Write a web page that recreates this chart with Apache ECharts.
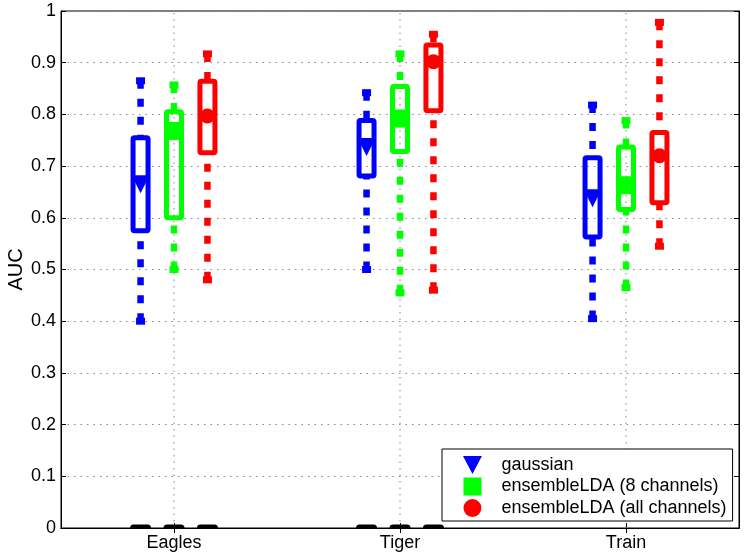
<!DOCTYPE html>
<html><head><meta charset="utf-8">
<script src="https://cdn.jsdelivr.net/npm/echarts@6/dist/echarts.min.js"></script>
<style>html,body{margin:0;padding:0;background:#fff}#c{width:745px;height:558px}</style>
</head><body><div id="c"></div>
<script>
// ---- data ----
const categories = ['Eagles', 'Tiger', 'Train'];
const methodNames = ['gaussian', 'ensembleLDA (8 channels)', 'ensembleLDA (all channels)'];
// [min, Q1, median, Q3, max] for Eagles, Tiger, Train
const gaussianStats = [[0.40, 0.575, 0.665, 0.755, 0.865], [0.50, 0.681, 0.737, 0.788, 0.842], [0.405, 0.563, 0.638, 0.716, 0.818]];
const lda8Stats = [[0.50, 0.60, 0.768, 0.805, 0.857], [0.455, 0.728, 0.792, 0.854, 0.917], [0.465, 0.616, 0.663, 0.737, 0.788]];
const ldaAllStats = [[0.48, 0.726, 0.797, 0.864, 0.917], [0.46, 0.807, 0.902, 0.934, 0.955], [0.545, 0.629, 0.72, 0.765, 0.978]];
// black marks lying on the zero line (null = none)
const gaussianZero = [0, 0, null];
const lda8Zero = [0, 0, null];
const ldaAllZero = [0, 0, null];
const yMin = 0, yMax = 1, yStep = 0.1;

// ---- styles ----
const allStats = [gaussianStats, lda8Stats, ldaAllStats];
const allZero = [gaussianZero, lda8Zero, ldaAllZero];
const colors = ['#0000FF', '#00FF00', '#FF0000'];
const offsets = [-0.148, 0, 0.148];
const FONT = '"Liberation Sans", Arial, Helvetica, sans-serif';
const catPos = categories.map((c, i) => i + 1);

function boxRender(k) {
  return function (params, api) {
    const x = api.value(0) + offsets[k];
    const pMin = api.coord([x, api.value(1)]);
    const pQ1 = api.coord([x, api.value(2)]);
    const pMd = api.coord([x, api.value(3)]);
    const pQ3 = api.coord([x, api.value(4)]);
    const pMax = api.coord([x, api.value(5)]);
    const cx = pMd[0];
    const hw = 7.5;
    const color = colors[k];
    const ch = [];
    const wStyle = { stroke: color, lineWidth: 6.5, lineDash: [8, 10], lineCap: 'butt' };
    ch.push({ type: 'line', shape: { x1: cx, y1: pMax[1], x2: cx, y2: pQ3[1] }, style: wStyle });
    ch.push({ type: 'line', shape: { x1: cx, y1: pMin[1], x2: cx, y2: pQ1[1] }, style: wStyle });
    ch.push({ type: 'rect', shape: { x: cx - 4.5, y: pMax[1] - 3.5, width: 9, height: 7 }, style: { fill: color } });
    ch.push({ type: 'rect', shape: { x: cx - 4.5, y: pMin[1] - 3.5, width: 9, height: 7 }, style: { fill: color } });
    ch.push({ type: 'rect', shape: { x: cx - hw, y: pQ3[1], width: 2 * hw, height: pQ1[1] - pQ3[1], r: 1.5 },
      style: { fill: null, stroke: color, lineWidth: 5, lineJoin: 'round' } });
    const my = pMd[1];
    if (k === 0) {
      ch.push({ type: 'polygon', shape: { points: [[cx - 9, my - 9], [cx + 9, my - 9], [cx, my + 9]] }, style: { fill: color } });
    } else if (k === 1) {
      ch.push({ type: 'rect', shape: { x: cx - 9, y: my - 9, width: 18, height: 18 }, style: { fill: color } });
    } else {
      ch.push({ type: 'circle', shape: { cx: cx, cy: my, r: 7.5 }, style: { fill: color } });
    }
    return { type: 'group', children: ch };
  };
}

const series = [];
// vertical dotted grid lines at category positions
series.push({
  type: 'custom', name: '_grid', silent: true, z: 1, clip: true,
  data: catPos.map(p => [p]),
  renderItem: function (params, api) {
    const a = api.coord([api.value(0), yMin]);
    const b = api.coord([api.value(0), yMax]);
    return { type: 'line', shape: { x1: a[0], y1: a[1], x2: b[0], y2: b[1] }, style: { stroke: '#888', lineWidth: 1, lineDash: [1.5, 5] } };
  }
});
for (let k = 0; k < 3; k++) {
  series.push({
    type: 'custom', name: methodNames[k], z: 3, clip: true,
    itemStyle: { color: colors[k] },
    encode: { x: 0, y: [1, 2, 3, 4, 5] },
    data: allStats[k].map((s, i) => [catPos[i]].concat(s)),
    renderItem: boxRender(k)
  });
}
const zeroData = [];
allZero.forEach((arr, k) => arr.forEach((v, i) => { if (v !== null) zeroData.push([catPos[i], k, v]); }));
series.push({
  type: 'custom', name: '_zero', z: 2, clip: true,
  data: zeroData,
  renderItem: function (params, api) {
    const x = api.value(0) + offsets[api.value(1)];
    const p = api.coord([x, api.value(2)]);
    return { type: 'line', shape: { x1: p[0] - 7, y1: p[1], x2: p[0] + 7, y2: p[1] }, style: { stroke: '#000', lineWidth: 7, lineCap: 'round' } };
  }
});

const chart = echarts.init(document.getElementById('c'), null, { renderer: 'canvas' });
chart.setOption({
  animation: false,
  backgroundColor: '#fff',
  textStyle: { fontFamily: FONT },
  grid: { left: 61, right: 6, top: 11, bottom: 30, containLabel: false, outerBoundsMode: 'none',
    show: true, borderColor: '#000', borderWidth: 1, backgroundColor: 'transparent' },
  legend: {
    orient: 'vertical', left: 442, top: 449,
    padding: [7, 6, 4, 21], itemWidth: 20, itemHeight: 18, itemGap: 3.5,
    backgroundColor: '#fff', borderColor: '#000', borderWidth: 1,
    textStyle: { fontSize: 18, color: '#000', fontFamily: FONT, padding: [0, 0, 0, 14] },
    data: [
      { name: methodNames[0], icon: 'path://M0,0L20,0L10,19Z' },
      { name: methodNames[1], icon: 'path://M0,0L17,0L17,17L0,17Z' },
      { name: methodNames[2], icon: 'circle' }
    ],
    selectedMode: false
  },
  xAxis: [{
    type: 'value', min: 0.5, max: 3.5, position: 'bottom',
    axisLine: { show: true, lineStyle: { color: '#000', width: 1 } },
    axisTick: { show: true, inside: true, length: 5, customValues: catPos, lineStyle: { color: '#000' } },
    axisLabel: { show: true, customValues: catPos, margin: 6, fontSize: 18, color: '#000', fontFamily: FONT,
      formatter: v => categories[Math.round(v) - 1] },
    splitLine: { show: false }
  }, {
    type: 'value', min: 0.5, max: 3.5, position: 'top',
    axisLine: { show: true, lineStyle: { color: '#000', width: 1 } },
    axisTick: { show: true, inside: true, length: 5, customValues: catPos, lineStyle: { color: '#000' } },
    axisLabel: { show: false },
    splitLine: { show: false }
  }],
  yAxis: [{
    type: 'value', min: yMin, max: yMax, interval: yStep, position: 'left',
    name: 'AUC', nameLocation: 'middle', nameGap: 35, nameRotate: 90, nameMoveOverlap: false,
    nameTextStyle: { fontSize: 20, color: '#000', fontFamily: FONT },
    axisLine: { show: true, lineStyle: { color: '#000', width: 1 } },
    axisTick: { show: true, inside: true, length: 5, lineStyle: { color: '#000' } },
    axisLabel: { margin: 5, fontSize: 18, color: '#000', fontFamily: FONT, formatter: v => String(+v.toFixed(1)) },
    splitLine: { show: true, lineStyle: { color: '#888', width: 1, type: [1.5, 5] } }
  }, {
    type: 'value', min: yMin, max: yMax, interval: yStep, position: 'right',
    axisLine: { show: true, lineStyle: { color: '#000', width: 1 } },
    axisTick: { show: true, inside: true, length: 5, lineStyle: { color: '#000' } },
    axisLabel: { show: false },
    splitLine: { show: false }
  }],
  series: series
});
</script>
</body></html>
